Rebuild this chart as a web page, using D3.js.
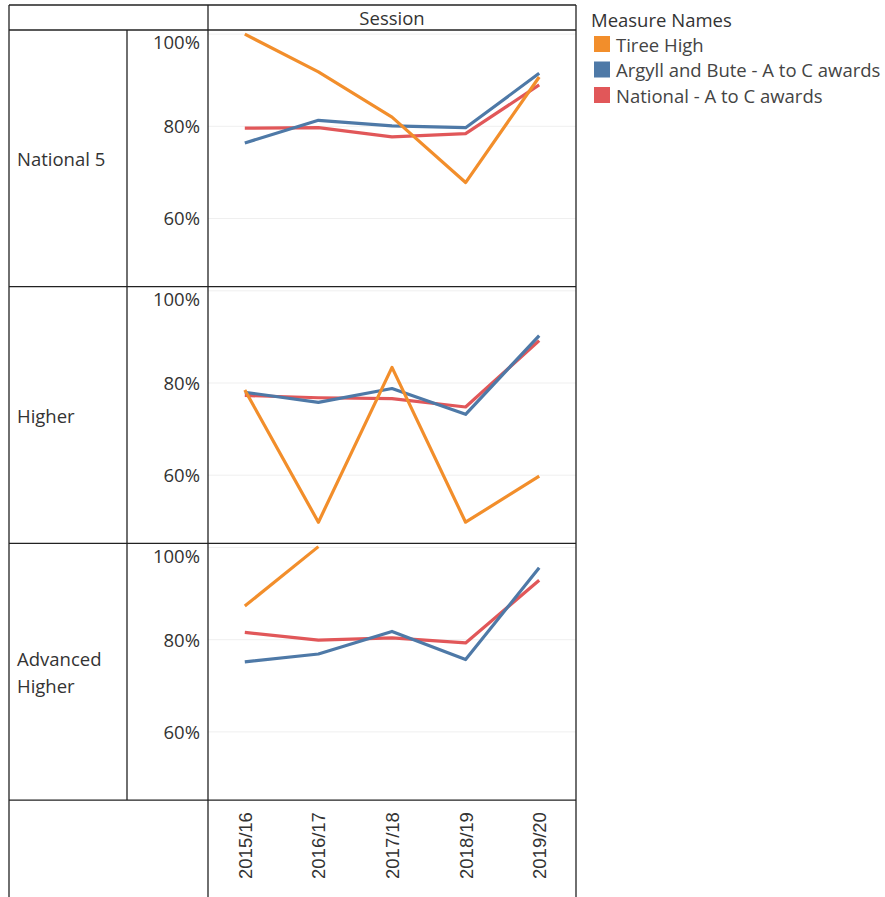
<!DOCTYPE html>
<html>
<head>
<meta charset="utf-8">
<script src="https://cdn.jsdelivr.net/npm/d3@7"></script>
<style>
  body { margin: 0; background: #fff; }
  svg { font-family: "Open Sans", "Noto Sans", sans-serif; }
</style>
</head>
<body>
<svg id="chart" width="885" height="897"></svg>
<script>
// values, in %
let sessions = ['2015/16', '2016/17', '2017/18', '2018/19', '2019/20'];
let levels = ['National 5', 'Higher', 'Advanced Higher'];
let measureNames = ['Tiree High', 'Argyll and Bute - A to C awards', 'National - A to C awards'];
let measureColors = ['#f28e2b', '#4e79a7', '#e15759'];
let yTicks = [60, 80, 100];

let tireeHigh = [
    [100, 91.8, 82.0, 67.8, 90.7],
    [78.5, 49.8, 83.4, 49.8, 59.8],
    [87.3, 100.2, null, null, null]
];
let argyllBute = [
    [76.4, 81.3, 80.1, 79.7, 91.5],
    [78.0, 75.8, 78.8, 73.2, 90.3],
    [75.2, 76.9, 81.8, 75.7, 95.6]
];
let national = [
    [79.6, 79.7, 77.7, 78.4, 89.0],
    [77.3, 76.8, 76.6, 74.8, 89.2],
    [81.6, 79.9, 80.4, 79.3, 92.9]
];

let svg = d3.select('#chart');
let fs = 18.5;

// table layout
let leftX = 9, colAxis = 127, colPlot = 208, rightX = 576;
let topY = 5, headerBottom = 30, panelH = 256.7;
let axisBottom = headerBottom + panelH * 3;

let x = d3.scalePoint()
    .domain(sessions)
    .range([colPlot, rightX])
    .padding(0.5);

let series = [national, argyllBute, tireeHigh]; // draw order: red, blue, orange on top
let seriesColors = [measureColors[2], measureColors[1], measureColors[0]];

levels.forEach((level, i) => {
    let y0 = headerBottom + panelH * i;
    let y = d3.scaleLinear()
        .domain([45.2, 100.9])
        .range([y0 + panelH, y0]);

    let g = svg.append('g').attr('class', 'panel');

    // gridlines
    g.selectAll('line.grid')
        .data(yTicks)
        .enter()
        .append('line')
        .attr('class', 'grid')
        .attr('x1', colPlot)
        .attr('x2', rightX)
        .attr('y1', d => y(d))
        .attr('y2', d => y(d))
        .attr('stroke', '#efefef')
        .attr('stroke-width', 1);

    // axis labels
    let ax = g.append('g')
        .attr('transform', `translate(${colPlot - 8},0)`)
        .call(d3.axisLeft(y).tickValues(yTicks).tickSize(0).tickFormat(d => d + '%'));
    ax.select('.domain').remove();
    ax.selectAll('text')
        .attr('x', 0)
        .attr('y', d => d == 100 ? 8 : 0)
        .attr('dy', '0.35em')
        .attr('font-size', fs)
        .attr('font-family', '"Open Sans", sans-serif')
        .attr('fill', '#333');

    // lines
    series.forEach((s, k) => {
        let line = d3.line()
            .defined(d => d != null)
            .x((d, j) => x(sessions[j]))
            .y(d => y(d));
        g.append('path')
            .datum(s[i])
            .attr('d', line)
            .attr('fill', 'none')
            .attr('stroke', seriesColors[k])
            .attr('stroke-width', 3.2)
            .attr('stroke-linejoin', 'round');
    });

    // row label
    let words = level == 'Advanced Higher' ? ['Advanced', 'Higher'] : [level];
    let label = g.append('text')
        .attr('x', 17)
        .attr('y', y0 + panelH / 2 - (words.length - 1) * 13.5)
        .attr('font-size', fs)
        .attr('fill', '#333')
        .attr('dominant-baseline', 'central');
    words.forEach((w, j) => {
        label.append('tspan')
            .attr('x', 17)
            .attr('dy', j == 0 ? 0 : 27)
            .text(w);
    });
});

// x axis (rotated session labels)
let xa = svg.append('g')
    .attr('transform', `translate(0,${axisBottom + 12})`)
    .call(d3.axisBottom(x).tickSize(0));
xa.select('.domain').remove();
xa.selectAll('text')
    .attr('transform', 'rotate(-90)')
    .attr('x', 0)
    .attr('y', 0)
    .attr('dy', '0.35em')
    .attr('text-anchor', 'end')
    .attr('font-size', fs)
    .attr('font-family', '"Liberation Sans", Arial, sans-serif')
    .attr('fill', '#333');

// header
svg.append('text')
    .attr('x', (colPlot + rightX) / 2)
    .attr('y', (topY + headerBottom) / 2)
    .attr('text-anchor', 'middle')
    .attr('dominant-baseline', 'central')
    .attr('font-size', fs)
    .attr('fill', '#333')
    .text('Session');

// table borders
let hLines = [topY, headerBottom, headerBottom + panelH, headerBottom + panelH * 2, axisBottom];
svg.selectAll('line.hrule')
    .data(hLines)
    .enter()
    .append('line')
    .attr('x1', leftX).attr('x2', rightX)
    .attr('y1', d => d).attr('y2', d => d)
    .attr('stroke', '#222').attr('stroke-width', 1.3);
let vLines = [[leftX, topY, 897], [colPlot, topY, 897], [rightX, topY, 897], [colAxis, headerBottom, axisBottom]];
svg.selectAll('line.vrule')
    .data(vLines)
    .enter()
    .append('line')
    .attr('x1', d => d[0]).attr('x2', d => d[0])
    .attr('y1', d => d[1]).attr('y2', d => d[2])
    .attr('stroke', '#222').attr('stroke-width', 1.3);

// legend
let legend = svg.append('g').attr('transform', 'translate(591,0)');
legend.append('text')
    .attr('x', 0)
    .attr('y', 19)
    .attr('dominant-baseline', 'central')
    .attr('font-size', fs)
    .attr('fill', '#333')
    .text('Measure Names');
let items = legend.selectAll('g.item')
    .data(measureNames)
    .enter()
    .append('g')
    .attr('class', 'item')
    .attr('transform', (d, i) => `translate(0,${44 + i * 25.5})`);
items.append('rect')
    .attr('x', 3).attr('y', -8)
    .attr('width', 16).attr('height', 16)
    .attr('fill', (d, i) => measureColors[i]);
items.append('text')
    .attr('x', 25)
    .attr('y', 0)
    .attr('dominant-baseline', 'central')
    .attr('font-size', fs)
    .attr('fill', '#444')
    .text(d => d);
</script>
</body>
</html>
